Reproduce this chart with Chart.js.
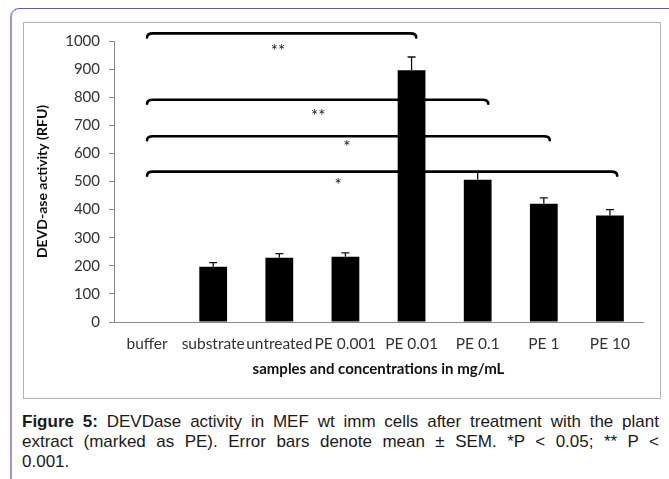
<!DOCTYPE html>
<html><head><meta charset="utf-8">
<script src="https://cdn.jsdelivr.net/npm/chart.js@4/dist/chart.umd.min.js"></script>
<style>
html,body{margin:0;padding:0;background:#fff;width:669px;height:479px;overflow:hidden;}
#frame{position:absolute;left:10px;top:8px;width:700px;height:520px;border-top:1.5px solid #5e5e9c;border-left:2px solid #9a9ac8;border-top-left-radius:9px;box-sizing:border-box;}
#box{position:absolute;left:23px;top:22px;width:636px;height:375px;border:1px solid #b4b4b4;background:#fff;}
#box canvas{display:block;}
#cap{position:absolute;left:22px;top:412px;width:637px;font:17px "Liberation Sans",Arial,sans-serif;line-height:20px;color:#1a1a1a;}
#cap .j{text-align:justify;text-align-last:justify;white-space:nowrap;}
</style></head>
<body>
<div id="frame"></div>
<div id="box"><canvas id="c" width="636" height="375"></canvas></div>
<div id="cap"><div class="j"><b>Figure 5:</b> DEVDase activity in MEF wt imm cells after treatment with the plant</div><div class="j">extract (marked as PE). Error bars denote mean ± SEM. *P &lt; 0.05; ** P &lt;</div><div>0.001.</div></div>
<script>
const categories = ['buffer','substrate','untreated','PE 0.001','PE 0.01','PE 0.1','PE 1','PE 10'];
const values = [0, 197, 229, 232, 896, 506, 421, 379];
const sem = [null, 14, 14, 14, 47, 27, 21, 21];
const yTicks = [0,100,200,300,400,500,600,700,800,900,1000];
const bracketStart = [0, 0, 0, 0];
const bracketEnd = [4.07, 5.16, 6.09, 7.11];
const bracketLevel = [1027, 791, 661, 535];
const starText = ['**', '**', '*', '*'];
const starX = [1.98, 2.59, 3.02, 2.89];
const starY = [975, 741, 631, 497];

const FONT = 'Lato, "DejaVu Sans", sans-serif';

const overlay = {
  id: 'overlay',
  afterDatasetsDraw(chart) {
    const {ctx, scales: {x, y}} = chart;
    ctx.save();
    ctx.strokeStyle = '#111';
    ctx.lineWidth = 1.3;
    values.forEach((v, i) => {
      const e = sem[i];
      if (!e) return;
      const px = x.getPixelForValue(i);
      const t = y.getPixelForValue(v + e);
      const b = y.getPixelForValue(v);
      ctx.beginPath();
      ctx.moveTo(px, b); ctx.lineTo(px, t);
      ctx.moveTo(px - 4, t); ctx.lineTo(px + 4, t);
      ctx.stroke();
    });
    ctx.lineWidth = 2.6;
    ctx.lineCap = 'round';
    ctx.lineJoin = 'round';
    ctx.strokeStyle = '#000';
    bracketLevel.forEach((lv, i) => {
      const x0 = x.getPixelForValue(bracketStart[i]);
      const x1 = x.getPixelForValue(bracketEnd[i]);
      const py = y.getPixelForValue(lv);
      ctx.beginPath();
      ctx.moveTo(x0, py + 4);
      ctx.quadraticCurveTo(x0, py, x0 + 6, py);
      ctx.lineTo(x1 - 6, py);
      ctx.quadraticCurveTo(x1, py, x1, py + 4);
      ctx.stroke();
    });
    ctx.fillStyle = '#222';
    ctx.font = '17px ' + FONT;
    ctx.textAlign = 'center';
    ctx.textBaseline = 'middle';
    starText.forEach((s, i) => {
      ctx.fillText(s, x.getPixelForValue(starX[i]), y.getPixelForValue(starY[i]) + 3);
    });
    ctx.restore();
  }
};

new Chart(document.getElementById('c'), {
  type: 'bar',
  data: {
    labels: categories,
    datasets: [{
      data: values,
      backgroundColor: '#000',
      borderWidth: 0,
      barPercentage: 0.42,
      categoryPercentage: 1.0
    }]
  },
  options: {
    responsive: false,
    animation: false,
    devicePixelRatio: 1,
    layout: {padding: {left: 0, right: 17, top: 17, bottom: 0}},
    plugins: {legend: {display: false}, tooltip: {enabled: false}},
    scales: {
      x: {
        afterFit(s) { s.height = 76; },
        grid: {display: true, drawOnChartArea: false, drawTicks: false, color: '#888'},
        border: {display: true, color: '#888', width: 1},
        ticks: {color: '#333', font: {family: FONT, size: 15.5}, padding: 13, maxRotation: 0, autoSkip: false},
        title: {display: true, text: 'samples and concentrations in mg/mL', color: '#111',
                font: {family: FONT, size: 15, weight: 'bold'}, padding: {top: 4, bottom: 20}}
      },
      y: {
        min: 0, max: 1000,
        afterFit(s) { s.width = 90; },
        afterBuildTicks(s) { s.ticks = yTicks.map(v => ({value: v})); },
        grid: {display: true, drawOnChartArea: false, drawTicks: true, tickLength: 5, color: '#888'},
        border: {display: true, color: '#888', width: 1},
        ticks: {color: '#333', font: {family: FONT, size: 15}, padding: 9, callback: (v) => String(v)},
        title: {display: true, text: 'DEVD-ase activity (RFU)', color: '#111',
                font: {family: FONT, size: 14, weight: 'bold'}, padding: {top: 10, bottom: 0}}
      }
    }
  },
  plugins: [overlay]
});
</script>
</body></html>
